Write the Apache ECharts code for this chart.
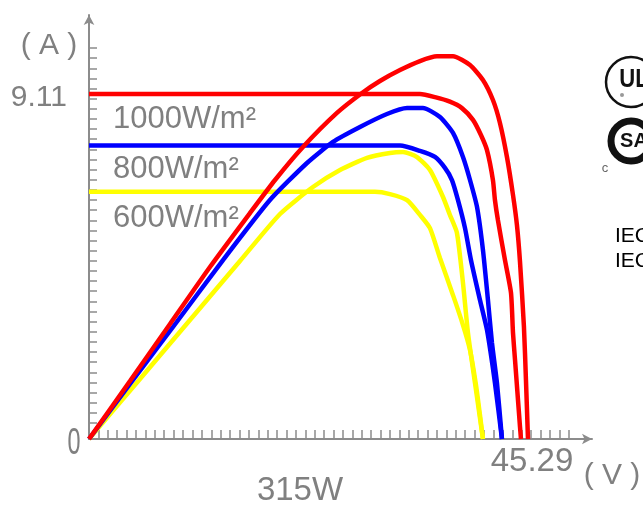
<!DOCTYPE html>
<html><head><meta charset="utf-8">
<script src="https://cdn.jsdelivr.net/npm/echarts@6/dist/echarts.min.js"></script>
<style>html,body{margin:0;padding:0;background:#fff}#c{width:643px;height:508px}</style>
</head><body><div id="c"></div>
<script>
// ---- data (volts, amps, watts) ----
const redIV_V = [0, 34.48, 36.04, 37.60, 38.85, 40.00, 40.83, 41.46, 42.08, 42.29, 42.60, 43.33, 43.96, 44.17, 44.38, 44.69, 44.90, 45.00];
const redIV_A = [9.11, 9.11, 9.03, 8.91, 8.74, 8.43, 8.03, 7.63, 6.84, 6.31, 5.78, 4.73, 3.86, 2.80, 2.09, 1.03, 0.32, 0];
const redPV_V = [0, 4.27, 8.44, 12.60, 16.77, 19.38, 22.29, 25.83, 28.44, 30.31, 32.40, 34.48, 36.25, 37.92, 39.69, 41.04, 42.08, 42.81, 43.54, 44.17, 44.58, 44.90, 45.31, 45.52, 45.73];
const redPV_W = [0, 47.7, 94.7, 141.6, 186.0, 213.2, 240.4, 268.4, 284.8, 294.7, 303.7, 311.1, 315, 315, 307.8, 295.5, 279.0, 260.1, 232.1, 200.8, 176.1, 145.7, 92.2, 48.6, 0];

const blueIV_V = [0, 32.40, 34.48, 36.04, 37.08, 37.81, 38.44, 39.17, 39.79, 40.73, 41.46, 42.29, 43.02];
const blueIV_A = [7.75, 7.75, 7.61, 7.45, 7.16, 6.84, 6.31, 5.57, 4.73, 3.67, 2.88, 1.48, 0];
const bluePV_V = [0, 4.27, 8.75, 13.96, 18.85, 22.71, 25.42, 28.23, 31.04, 33.13, 34.79, 36.56, 37.92, 38.96, 39.69, 40.42, 41.04, 41.56, 41.98, 42.50, 43.02];
const bluePV_W = [0, 45.3, 92.2, 147.3, 196.7, 227.2, 244.5, 256.8, 267.5, 272.4, 272.4, 265.0, 251.9, 232.1, 213.2, 191.0, 155.6, 114.4, 79.0, 46.1, 0];

const yellowIV_V = [0, 29.79, 31.35, 33.13, 34.48, 35.52, 36.56, 37.92, 38.96, 39.69, 40.31, 40.73, 41.04];
const yellowIV_A = [6.53, 6.53, 6.47, 6.31, 5.92, 5.57, 4.78, 3.80, 3.01, 2.35, 1.43, 0.63, 0];
const yellowPV_V = [0, 5.31, 10.52, 15.73, 19.90, 23.33, 26.15, 28.96, 31.35, 32.71, 34.17, 35.52, 36.88, 37.60, 38.33, 38.96, 39.48, 40.21, 41.04];
const yellowPV_W = [0, 49.4, 97.9, 146.5, 185.2, 207.4, 221.4, 231.3, 235.4, 236.2, 232.1, 221.4, 199.2, 184.4, 169.6, 128.4, 87.3, 46.1, 0];

const irradianceLabels = ['1000W/m²', '800W/m²', '600W/m²'];
const iscLabel = '9.11';
const vocLabel = '45.29';
const powerLabel = '315W';
const originLabel = '0';
const unitA = '( A )';
const unitV = '( V )';

const zip = (a, b) => a.map((v, i) => [v, b[i]]);
const FONT = "'Liberation Sans', Arial, sans-serif";
const GRAY = '#808080';
const AXIS = '#8c8c8c';

function line(name, xs, ys, color, yIdx) {
  return {
    name, type: 'line', xAxisIndex: 0, yAxisIndex: yIdx,
    data: zip(xs, ys), showSymbol: false, smooth: 0.2,
    lineStyle: { color, width: 4.5 }, itemStyle: { color }, animation: false
  };
}

const chart = echarts.init(document.getElementById('c'), null, { renderer: 'canvas' });
chart.setOption({
  animation: false,
  backgroundColor: '#fff',
  grid: [
    { left: 89, top: 15, right: 51, bottom: 69 },
    { left: 89, top: 15, right: 74.3, bottom: 69 },
    { left: 89, top: 48, right: 51, bottom: 85 }
  ],
  xAxis: [
    { gridIndex: 0, type: 'value', min: 0, max: 52.4,
      axisLine: { show: true, lineStyle: { color: AXIS, width: 2 }, symbol: ['none', 'arrow'], symbolSize: [8, 10] },
      axisTick: { show: false }, axisLabel: { show: false }, splitLine: { show: false } },
    { gridIndex: 1, type: 'value', min: 0, max: 51, interval: 1,
      axisLine: { show: false }, axisTick: { show: true, inside: true, length: 9, lineStyle: { color: AXIS, width: 1.5 } },
      axisLabel: { show: false }, splitLine: { show: false } },
    { gridIndex: 2, type: 'value', show: false, min: 0, max: 1 }
  ],
  yAxis: [
    { gridIndex: 0, type: 'value', min: 0, max: 11.2,
      axisLine: { show: true, lineStyle: { color: AXIS, width: 2 }, symbol: ['none', 'arrow'], symbolSize: [8, 10] },
      axisTick: { show: false }, axisLabel: { show: false }, splitLine: { show: false } },
    { gridIndex: 0, type: 'value', min: 0, max: 349, show: false, splitLine: { show: false } },
    { gridIndex: 1, type: 'value', show: false, min: 0, max: 1 },
    { gridIndex: 2, type: 'value', min: 0, max: 37, interval: 1,
      axisLine: { show: false }, axisTick: { show: true, inside: true, length: 8, lineStyle: { color: AXIS, width: 1.5 } },
      axisLabel: { show: false }, splitLine: { show: false } }
  ],
  series: [
    line('600 I', yellowIV_V, yellowIV_A, '#ffff00', 0),
    line('600 P', yellowPV_V, yellowPV_W, '#ffff00', 1),
    line('800 I', blueIV_V, blueIV_A, '#0000ff', 0),
    line('800 P', bluePV_V, bluePV_W, '#0000ff', 1),
    line('1000 I', redIV_V, redIV_A, '#ff0000', 0),
    line('1000 P', redPV_V, redPV_W, '#ff0000', 1)
  ],
  graphic: [
    { type: 'text', x: 49, y: 46, style: { text: unitA, font: '30px ' + FONT, fill: GRAY, textAlign: 'center', textVerticalAlign: 'middle' } },
    { type: 'text', x: 67, y: 98, style: { text: iscLabel, font: '30px ' + FONT, fill: GRAY, textAlign: 'right', textVerticalAlign: 'middle' } },
    { type: 'text', x: 113, y: 119, style: { text: irradianceLabels[0], font: '31px ' + FONT, fill: GRAY, textAlign: 'left', textVerticalAlign: 'middle' } },
    { type: 'text', x: 113, y: 169, style: { text: irradianceLabels[1], font: '31px ' + FONT, fill: GRAY, textAlign: 'left', textVerticalAlign: 'middle' } },
    { type: 'text', x: 113, y: 218, style: { text: irradianceLabels[2], font: '31px ' + FONT, fill: GRAY, textAlign: 'left', textVerticalAlign: 'middle' } },
    { type: 'text', x: 74, y: 444, scaleX: 0.65, style: { text: originLabel, font: '36px ' + FONT, fill: GRAY, textAlign: 'center', textVerticalAlign: 'middle' } },
    { type: 'text', x: 532, y: 462, style: { text: vocLabel, font: '33px ' + FONT, fill: GRAY, textAlign: 'center', textVerticalAlign: 'middle' } },
    { type: 'text', x: 612, y: 476, style: { text: unitV, font: '30px ' + FONT, fill: GRAY, textAlign: 'center', textVerticalAlign: 'middle' } },
    { type: 'text', x: 300, y: 491, style: { text: powerLabel, font: '33px ' + FONT, fill: GRAY, textAlign: 'center', textVerticalAlign: 'middle' } },
    // certification marks (decorative)
    { type: 'circle', shape: { cx: 631, cy: 82, r: 25 }, style: { fill: '#fff', stroke: '#111', lineWidth: 2.5 } },
    { type: 'text', x: 634, y: 80, scaleX: 0.85, style: { text: 'UL', font: 'bold 26px ' + FONT, fill: '#111', textAlign: 'center', textVerticalAlign: 'middle' } },
    { type: 'circle', shape: { cx: 622, cy: 95, r: 2 }, style: { fill: '#999' } },
    { type: 'circle', shape: { cx: 631, cy: 141, r: 20 }, style: { fill: '#fff', stroke: '#111', lineWidth: 7 } },
    { type: 'text', x: 634, y: 141, style: { text: 'SA', font: 'bold 20px ' + FONT, fill: '#111', textAlign: 'center', textVerticalAlign: 'middle' } },
    { type: 'text', x: 605, y: 168, style: { text: 'c', font: '13px ' + FONT, fill: '#666', textAlign: 'center', textVerticalAlign: 'middle' } },
    { type: 'text', x: 615, y: 236, style: { text: 'IEC', font: '21px ' + FONT, fill: '#000', textAlign: 'left', textVerticalAlign: 'middle' } },
    { type: 'text', x: 615, y: 261, style: { text: 'IEC', font: '21px ' + FONT, fill: '#000', textAlign: 'left', textVerticalAlign: 'middle' } }
  ]
});
</script></body></html>
